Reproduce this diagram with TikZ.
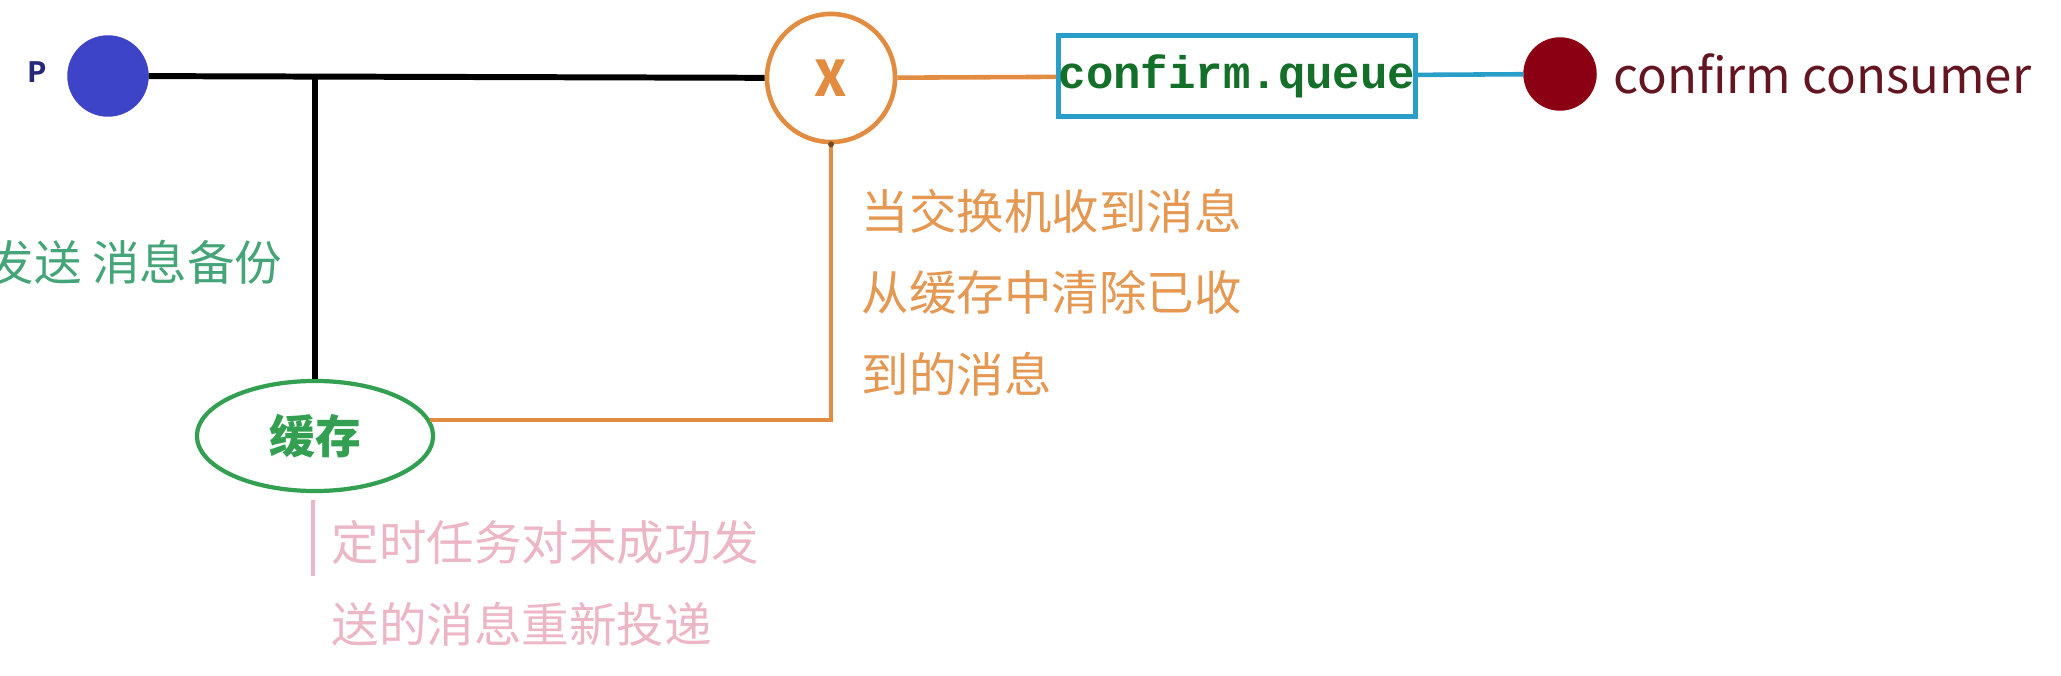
\documentclass[tikz,border=0pt]{standalone}
\usepackage{fontspec}
\newfontfamily\cjk{Noto Sans CJK SC}
\newfontfamily\monofont{Liberation Mono}
\usetikzlibrary{shapes.geometric, positioning}
\definecolor{prodblue}{RGB}{62,68,200}
\definecolor{exorange}{RGB}{226,140,66}
\definecolor{noteorange}{RGB}{228,152,82}
\definecolor{notegreen}{RGB}{70,165,120}
\definecolor{queuecyan}{RGB}{40,158,200}
\definecolor{queuegreen}{RGB}{20,112,40}
\definecolor{consred}{RGB}{140,0,20}
\definecolor{constext}{RGB}{100,22,32}
\definecolor{cachegreen}{RGB}{50,160,80}
\definecolor{notepink}{RGB}{236,182,198}
\tikzset{
    dot_producer/.style={
        circle, fill=prodblue, draw=prodblue, minimum size=0.80cm, inner sep=0pt
    },
    dot_consumer/.style={
        circle, fill=consred, draw=consred, minimum size=0.72cm, inner sep=0pt
    },
    exch_circle/.style={
        circle, draw=exorange, line width=1.3pt, minimum size=1.28cm, inner sep=0pt,
        text=exorange, font=\cjk\fontsize{14}{16}\selectfont
    },
    queue_box/.style={
        rectangle, draw=queuecyan, line width=1.5pt, minimum width=3.55cm, minimum height=0.81cm,
        inner sep=0pt, text=queuegreen, font=\monofont\bfseries\fontsize{13}{14}\selectfont
    },
    cache_ellipse/.style={
        ellipse, draw=cachegreen, line width=1.2pt, minimum width=2.36cm, minimum height=1.10cm,
        inner sep=0pt, text=cachegreen, font=\cjk\bfseries\fontsize{13}{15}\selectfont
    },
    line_black/.style={draw=black, line width=1.7pt},
    line_orange/.style={draw=exorange, line width=1.3pt},
    line_cyan/.style={draw=queuecyan, line width=1.3pt},
    line_pink/.style={draw=notepink, line width=1.2pt},
    note_txt/.style={
        inner sep=0pt, align=left, font=\cjk\fontsize{13.5}{23.3}\selectfont
    }
}
\begin{document}
\begin{tikzpicture}[x=0.01cm, y=-0.01cm]
    \useasboundingbox[fill=white] (0,0) rectangle (2061,676);

    \node[dot_producer] (prod) at (108,76) {};
    \node[inner sep=0pt, text=prodblue!60!black, font=\monofont\bfseries\fontsize{9}{10}\selectfont] (plbl) at (37,72) {P};
    \node[exch_circle] (exch) at (831,78) {\bfseries X};
    \node[queue_box] (queue) at (1237,76) {confirm.queue};
    \node[dot_consumer] (cons) at (1560,74) {};
    \node[inner sep=0pt, text=constext, font=\cjk\fontsize{14}{16}\selectfont, right=0.16cm of cons] (conslbl) {confirm consumer};
    \node[cache_ellipse] (cache) at (315,436) {缓存};
    \coordinate (tee) at (315,76);
    \coordinate (pink_top) at (313,500);
    \coordinate (pink_bot) at (313,576);

    \draw[line_black] (prod) -- (exch);
    \draw[line_black] (tee) -- (cache);
    \draw[line_orange] (exch) -- (queue);
    \draw[line_cyan] (queue) -- (cons);
    \draw[line_orange] (exch.south) |- (cache.8);
    \fill[brown!60!black] (exch.south) circle (3);
    \draw[line_pink] (pink_top) -- (pink_bot);

    \node[note_txt, text=notegreen, anchor=east] (sendnote) at (283,262) {发送 消息备份};
    \node[note_txt, text=noteorange, anchor=north west] (exchnote) at (861,188) {当交换机收到消息\\从缓存中清除已收\\到的消息};
    \node[note_txt, text=notepink, anchor=north west] (pinknote) at (331,520) {定时任务对未成功发\\送的消息重新投递};
\end{tikzpicture}
\end{document}
